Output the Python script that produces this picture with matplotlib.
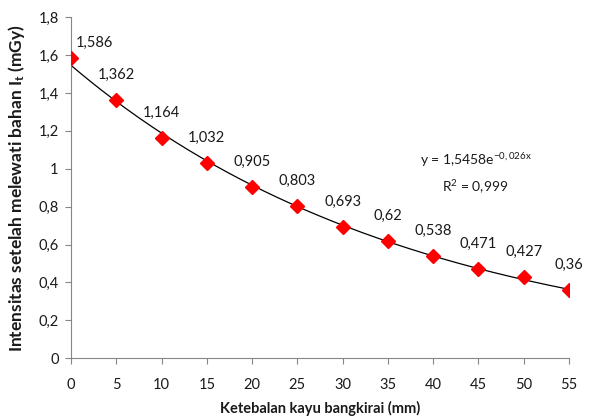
import numpy as np
import matplotlib
matplotlib.use('Agg')
import matplotlib.pyplot as plt
from matplotlib.ticker import FuncFormatter

plt.rcParams['font.family'] = ['Lato', 'DejaVu Sans']
plt.rcParams['mathtext.fontset'] = 'custom'
plt.rcParams['mathtext.rm'] = 'Lato'
plt.rcParams['mathtext.it'] = 'Lato:italic'
plt.rcParams['mathtext.bf'] = 'Lato:bold'

thickness = [0, 5, 10, 15, 20, 25, 30, 35, 40, 45, 50, 55]
intensity = [1.586, 1.362, 1.164, 1.032, 0.905, 0.803, 0.693, 0.62, 0.538, 0.471, 0.427, 0.36]
labels = ['1,586', '1,362', '1,164', '1,032', '0,905', '0,803', '0,693', '0,62',
          '0,538', '0,471', '0,427', '0,36']

x = np.array(thickness, dtype=float)
y = np.array(intensity)

# exponential trendline, as Excel does it (fit on log values)
b, lna = np.polyfit(x, np.log(y), 1)
a = np.exp(lna)
xf = np.linspace(0, 55, 200)

TXT = '#1a1a1a'

fig = plt.figure(figsize=(5.92, 4.19), dpi=100)
ax = fig.add_axes([0.12, 0.145, 0.841, 0.814])

ax.plot(xf, a * np.exp(b * xf), color='black', linewidth=0.9, zorder=2)
ax.plot(x, y, linestyle='none', marker='D', markersize=7, color='#FF0000',
        markeredgecolor='#FF0000', zorder=3)

for i, (xi, yi, lab) in enumerate(zip(x, y, labels)):
    off = (17, 11) if i == 0 else (0, 18)
    ax.annotate(lab, (xi, yi), textcoords='offset points', xytext=off,
                ha='center', va='center', fontsize=10.5, color=TXT)

ax.text(44.7, 1.047, r'y = 1,5458e$^{\mathrm{-0,026x}}$', ha='center', va='center',
        fontsize=10, color=TXT)
ax.text(44.7, 0.905, r'R$^{2}$ = 0,999', ha='center', va='center',
        fontsize=10, color=TXT)

ax.set_xlim(0, 55)
ax.set_ylim(0, 1.8)
ax.set_xticks(range(0, 56, 5))
ax.set_yticks(np.arange(0, 1.81, 0.2))
ax.yaxis.set_major_formatter(FuncFormatter(lambda v, p: f'{v:.1f}'.rstrip('0').rstrip('.').replace('.', ',')))

for s in ['top', 'right']:
    ax.spines[s].set_visible(False)
for s in ['left', 'bottom']:
    ax.spines[s].set_color('#868686')
    ax.spines[s].set_linewidth(0.8)
ax.tick_params(axis='both', colors='#868686', labelcolor=TXT, labelsize=10.5,
               length=4, width=0.8, direction='out')
ax.tick_params(axis='x', pad=10)
ax.tick_params(axis='y', pad=5)

ax.set_xlabel('Ketebalan kayu bangkirai (mm)', fontsize=10.5, fontweight='bold',
              color=TXT, labelpad=7)
ax.set_ylabel(r'Intensitas setelah melewati bahan I$_\mathbf{t}$ (mGy)', fontsize=12.5,
              fontweight='bold', color=TXT, labelpad=8)

fig.savefig('out.png', dpi=100)
